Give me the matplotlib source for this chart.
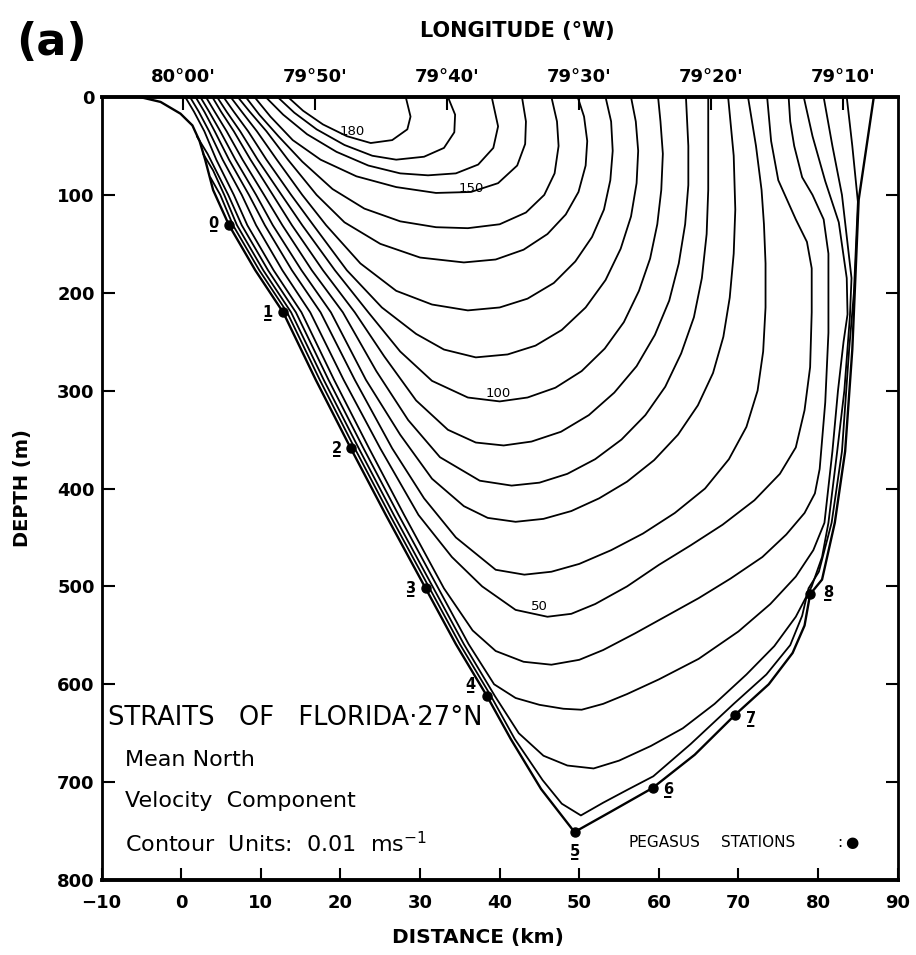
import matplotlib
matplotlib.use('Agg')
import matplotlib.pyplot as plt
from matplotlib import font_manager

names = {f.name for f in font_manager.fontManager.ttflist}
narrow = 'Liberation Sans Narrow' if 'Liberation Sans Narrow' in names else 'DejaVu Sans'
fam = [narrow, 'DejaVu Sans']
plt.rcParams['font.family'] = fam

# sea-floor section (distance km, depth m)
bottom = [(-5.2, 0), (-2.6, 5), (-0.1, 17), (1.4, 29), (2.3, 45), (3.0, 64), (4.0, 95),
          (6.0, 131), (9.3, 177), (12.8, 220), (16.9, 289), (21.3, 359), (25.7, 427),
          (30.7, 502), (34.5, 559), (38.4, 612), (41.4, 656), (45.2, 707), (49.4, 751),
          (54.0, 730), (59.2, 706), (64.5, 672), (69.6, 631), (73.8, 600), (76.8, 568),
          (78.3, 540), (79.0, 508), (80.5, 493), (82.1, 435), (83.4, 362), (84.3, 258),
          (85.1, 105), (87.0, 0)]

# Pegasus stations
station_x = [6.0, 12.8, 21.3, 30.7, 38.4, 49.4, 59.2, 69.6, 79.0]
station_d = [131, 220, 359, 502, 612, 751, 706, 631, 508]
station_names = ['0', '1', '2', '3', '4', '5', '6', '7', '8']

# velocity isolines (units 0.01 m/s), traced from the section
c10 = [(3.65, 82), (4.9, 100), (6.5, 131), (9.8, 177), (13.3, 220), (17.4, 289), (21.8, 359),
       (26.2, 427), (31.2, 502), (35.0, 559), (38.9, 612), (41.9, 656), (45.4, 698),
       (47.8, 722), (50.2, 734), (53.0, 721), (56.0, 708), (59.3, 694), (64.0, 661),
       (69.4, 620), (73.5, 590), (76.5, 560), (78.0, 530), (78.8, 502), (80.1, 485),
       (81.7, 435), (83.0, 362), (83.9, 258), (84.5, 200), (85.0, 107), (84.3, 50), (83.6, 0)]
c20 = [(2.75, 58), (4.0, 75), (5.4, 100), (7.0, 131), (10.3, 177), (13.8, 220), (17.9, 289),
       (22.3, 359), (26.7, 427), (31.7, 502), (35.5, 559), (39.4, 612), (42.4, 650),
       (45.5, 673), (48.5, 683), (51.8, 686), (55.0, 678), (59.0, 663), (63.0, 645),
       (67.0, 620), (71.0, 590), (74.5, 561), (77.2, 531), (79.2, 500), (80.5, 470),
       (81.3, 435), (82.4, 362), (83.3, 300), (84.0, 224), (84.2, 185), (83.0, 100),
       (81.8, 50), (80.7, 0)]
c30 = [(1.95, 40), (3.3, 58), (5.9, 100), (7.6, 131), (10.9, 177), (14.4, 220), (18.5, 289),
       (22.9, 359), (27.3, 427), (32.3, 502), (36.1, 559), (39.3, 600), (42.0, 614),
       (45.0, 621), (48.0, 625), (50.3, 626), (53.0, 620), (56.0, 610), (60.0, 595),
       (65.0, 574), (70.0, 546), (74.0, 518), (77.2, 490), (79.4, 463), (80.8, 435),
       (81.8, 362), (82.5, 300), (83.2, 250), (83.7, 222), (83.6, 185), (82.6, 128),
       (80.9, 86), (79.3, 40), (78.2, 0)]
c40 = [(0.5, 0), (1.6, 15), (2.9, 35), (4.4, 64), (6.6, 100), (8.3, 131), (11.6, 177),
       (15.1, 220), (19.2, 289), (23.6, 359), (28.0, 427), (33.0, 502), (36.6, 545),
       (39.5, 566), (43.0, 577), (46.5, 580), (50.0, 575), (53.0, 565), (57.0, 548),
       (61.0, 530), (65.0, 512), (69.0, 492), (73.0, 470), (76.0, 447), (78.3, 425),
       (79.6, 405), (80.2, 380), (80.9, 312), (81.3, 241), (81.3, 160), (80.7, 125),
       (79.3, 100), (78.0, 82), (77.0, 50), (76.5, 25), (76.3, 0)]
c50 = [(1.1, 0), (2.2, 15), (3.5, 35), (5.2, 64), (7.6, 100), (9.4, 131), (12.7, 177),
       (16.2, 220), (20.4, 289), (25.0, 359), (29.8, 427), (34.0, 470), (37.8, 500),
       (42.0, 524), (46.0, 531), (49.0, 528), (52.0, 518), (56.0, 500), (60.0, 478),
       (64.0, 458), (68.0, 437), (72.0, 412), (75.2, 385), (77.2, 358), (78.3, 320),
       (79.0, 276), (79.2, 220), (79.2, 175), (78.6, 148), (77.2, 125), (75.0, 85),
       (74.1, 45), (73.6, 0)]
c60 = [(1.8, 0), (2.9, 15), (4.2, 35), (6.0, 64), (8.5, 100), (10.5, 131), (13.9, 177),
       (17.5, 220), (21.8, 289), (26.5, 359), (30.5, 410), (34.5, 450), (39.5, 483),
       (43.1, 488), (46.5, 485), (50.0, 477), (54.0, 463), (58.0, 446), (62.0, 425),
       (65.8, 400), (68.8, 370), (71.0, 337), (72.4, 300), (73.1, 260), (73.4, 215),
       (73.4, 170), (73.2, 130), (72.9, 95), (72.2, 50), (71.2, 0)]
c70 = [(2.4, 0), (3.5, 15), (4.9, 35), (6.8, 64), (9.4, 100), (11.5, 131), (15.1, 177),
       (18.8, 220), (23.2, 289), (27.5, 345), (31.5, 390), (35.5, 418), (38.5, 430),
       (42.0, 434), (45.5, 431), (49.0, 423), (52.5, 410), (56.0, 393), (59.4, 371),
       (62.4, 345), (64.9, 315), (66.8, 282), (68.1, 245), (68.9, 205), (69.4, 160),
       (69.6, 115), (69.4, 60), (68.7, 0)]
c80 = [(3.1, 0), (4.2, 15), (5.7, 35), (7.7, 64), (10.4, 100), (12.7, 131), (16.4, 177),
       (20.3, 220), (24.5, 280), (28.5, 330), (32.5, 368), (37.5, 392), (41.5, 397),
       (45.0, 394), (48.5, 385), (52.0, 370), (55.3, 350), (58.3, 325), (60.8, 296),
       (62.8, 262), (64.4, 225), (65.4, 185), (66.0, 140), (66.2, 95), (66.2, 45), (66.2, 0)]
c90 = [(3.9, 0), (5.0, 15), (6.6, 35), (8.7, 64), (11.5, 100), (13.9, 131), (17.8, 177),
       (21.8, 220), (25.5, 265), (29.5, 310), (33.5, 340), (37.0, 353), (40.5, 356),
       (44.0, 352), (47.7, 342), (51.2, 325), (54.4, 302), (57.2, 275), (59.5, 243),
       (61.3, 208), (62.5, 170), (63.3, 130), (63.7, 90), (63.7, 50), (63.4, 0)]
c100 = [(4.5, 0), (5.7, 15), (7.4, 35), (9.6, 64), (12.6, 100), (15.2, 131), (19.3, 177),
        (23.5, 220), (27.5, 260), (31.5, 290), (36.0, 307), (40.0, 311), (43.5, 307),
        (47.0, 297), (50.3, 280), (53.2, 257), (55.6, 230), (57.5, 198), (58.9, 165),
        (59.8, 130), (60.3, 95), (60.5, 58), (60.2, 25), (59.9, 0)]
c110 = [(5.3, 0), (6.6, 15), (8.4, 35), (10.7, 64), (13.8, 100), (16.6, 131), (20.8, 177),
        (25.2, 215), (29.5, 242), (33.0, 258), (37.0, 266), (41.0, 263), (44.5, 254),
        (47.8, 238), (50.8, 215), (53.3, 187), (55.2, 155), (56.5, 122), (57.2, 88),
        (57.4, 55), (57.1, 25), (56.5, 0)]
c120 = [(6.2, 0), (7.6, 15), (9.5, 35), (12.0, 64), (15.2, 100), (18.2, 131), (22.5, 170),
        (27.0, 198), (31.5, 212), (36.0, 218), (40.0, 215), (43.5, 206), (46.8, 190),
        (49.5, 168), (51.6, 143), (53.1, 115), (53.9, 85), (54.2, 55), (54.0, 25), (53.3, 0)]
c130 = [(7.1, 0), (8.6, 15), (10.7, 35), (13.4, 64), (17.0, 100), (20.5, 128), (25.0, 150),
        (30.0, 164), (35.5, 169), (39.5, 166), (43.0, 156), (46.0, 140), (48.3, 120),
        (49.9, 97), (50.8, 70), (51.0, 45), (50.6, 20), (49.8, 0)]
c140 = [(8.1, 0), (9.8, 18), (12.2, 40), (15.2, 66), (19.0, 94), (23.0, 114), (27.5, 127),
        (32.0, 133), (36.0, 134), (40.0, 130), (43.3, 118), (45.6, 100), (46.9, 78),
        (47.4, 50), (47.2, 25), (46.5, 0)]
c150 = [(9.2, 0), (11.2, 20), (14.0, 44), (17.5, 64), (22.0, 81), (27.0, 92), (32.0, 98),
        (36.4, 97), (39.8, 88), (42.2, 70), (43.2, 48), (43.3, 25), (42.8, 0)]
c160 = [(10.6, 0), (12.8, 18), (15.8, 38), (19.5, 56), (23.5, 70), (27.5, 78), (31.0, 80),
        (34.5, 78), (37.3, 69), (39.2, 52), (39.8, 30), (39.0, 0)]
c170 = [(12.1, 0), (14.2, 16), (17.0, 33), (20.5, 49), (24.0, 60), (27.0, 64), (30.5, 61),
        (33.0, 52), (34.3, 36), (34.4, 18), (33.5, 0)]
c180 = [(13.4, 0), (15.3, 14), (17.8, 28), (20.8, 40), (23.8, 47), (26.5, 44), (28.4, 33),
        (28.8, 20), (28.2, 0)]

isolines = [c10, c20, c30, c40, c50, c60, c70, c80, c90, c100, c110, c120, c130, c140,
            c150, c160, c170, c180]

# labelled isolines: value, distance, depth
label_vals = ['180', '150', '100', '50']
label_x = [21.5, 36.4, 39.8, 45.0]
label_d = [35, 93, 303, 521]

lon_ticks = [0.25, 16.8, 33.4, 50.0, 66.6, 83.1]
lon_labels = ["80°00'", "79°50'", "79°40'", "79°30'", "79°20'", "79°10'"]

fig = plt.figure(figsize=(9.16, 9.55), dpi=100)
ax = fig.add_axes([0.111, 0.0785, 0.869, 0.8199])

for line in isolines:
    xs, ds = zip(*line)
    ax.plot(xs, ds, color='k', lw=1.3, solid_joinstyle='round', solid_capstyle='round')
bx, bd = zip(*bottom)
ax.plot(bx, bd, color='k', lw=1.7, solid_joinstyle='round')

ax.plot(station_x, station_d, 'o', color='k', ms=6.5)
offs = [(-11, -2), (-11, -3), (-10, -3), (-11, -3), (-12, 5), (0, -17), (11, -4), (11, -6), (13, -2)]
for sx, sd, name, o in zip(station_x, station_d, station_names, offs):
    for s in (name, '_'):
        ax.annotate(s, (sx, sd), xytext=o, textcoords='offset points',
                    ha='center', va='baseline', fontsize=10.5, fontweight='bold')

for v, x, d in zip(label_vals, label_x, label_d):
    ax.text(x, d, v, ha='center', va='center', fontsize=9.5)

ax.set_xlim(-10, 90)
ax.set_ylim(800, 0)
ax.set_xticks(range(-10, 91, 10))
ax.set_yticks(range(0, 801, 100))
ax.tick_params(direction='in', length=9, width=1.5, labelsize=13, right=True, pad=5)
ax.tick_params(axis='x', pad=10)
for lab in ax.get_xticklabels() + ax.get_yticklabels():
    lab.set_fontweight('bold')
for s in ax.spines.values():
    s.set_linewidth(2)
ax.spines['bottom'].set_linewidth(2.8)
ax.spines['top'].set_linewidth(2.8)

ax2 = ax.twiny()
ax2.set_xlim(-10, 90)
ax2.set_xticks(lon_ticks)
ax2.set_xticklabels(lon_labels, fontsize=13, fontweight='bold')
ax2.tick_params(direction='in', length=9, width=1.5, pad=8)

ax.set_ylabel('DEPTH (m)', fontsize=14, fontweight='bold', labelpad=18)
fig.text(0.522, 0.018, 'DISTANCE (km)', fontsize=14.5, fontweight='bold', ha='center', va='center')
fig.text(0.565, 0.968, 'LONGITUDE (°W)', fontsize=15, fontweight='bold', ha='center', va='center')

fig.text(0.018, 0.955, '(a)', fontsize=32, fontweight='bold', va='center')
fig.text(0.118, 0.248, 'STRAITS   OF   FLORIDA·27°N', fontsize=18.5, va='center')
fig.text(0.136, 0.204, 'Mean North', fontsize=16, va='center')
fig.text(0.136, 0.161, 'Velocity  Component', fontsize=16, va='center')
fig.text(0.136, 0.117, r'Contour  Units:  0.01  ms$^{-1}$', fontsize=16, va='center')
fig.text(0.686, 0.118, 'PEGASUS', fontsize=11, va='center')
fig.text(0.787, 0.118, 'STATIONS', fontsize=11, va='center')
fig.text(0.917, 0.118, ':', fontsize=11, va='center', ha='center')
fig.text(0.930, 0.118, '●', fontsize=11, va='center', ha='center', family=fam)

fig.savefig('out.png', dpi=100)
